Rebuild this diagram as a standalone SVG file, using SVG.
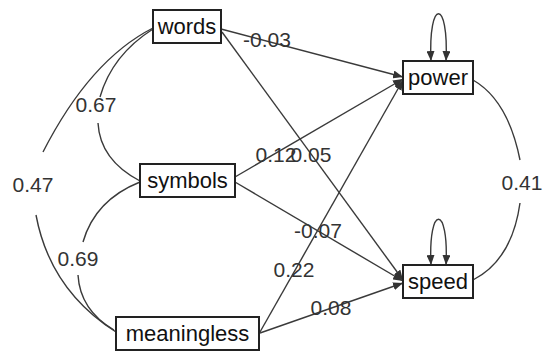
<svg xmlns="http://www.w3.org/2000/svg" width="543" height="352" viewBox="0 0 543 352">
<style>
.box{fill:#fff;stroke:#222;stroke-width:2}
.nt{font-family:"Liberation Sans",Arial,sans-serif;font-size:22px;fill:#111;text-anchor:middle}
.lb{font-family:"Liberation Sans",Arial,sans-serif;font-size:21px;fill:#333;text-anchor:middle}
.e{fill:none;stroke:#3a3a3a;stroke-width:1.4}
.c{fill:none;stroke:#3a3a3a;stroke-width:1.4}
</style>
<defs>
<marker id="ah" viewBox="0 0 10 8" refX="10" refY="4" markerWidth="10" markerHeight="8" markerUnits="userSpaceOnUse" orient="auto-start-reverse">
<path d="M0,0 L10,4 L0,8 Z" fill="#333"/>
</marker>
</defs>
<rect width="543" height="352" fill="#fff"/>
<g id="connectors">
<path class="e" d="M221,29 L403,77" marker-end="url(#ah)"/>
<path class="e" d="M222,32 L403,280" marker-end="url(#ah)"/>
<path class="e" d="M235,177 L403,79" marker-end="url(#ah)"/>
<path class="e" d="M235,182 L403,281" marker-end="url(#ah)"/>
<path class="e" d="M260,332 L403,80" marker-end="url(#ah)"/>
<path class="e" d="M260,333 L403,283" marker-end="url(#ah)"/>
<path class="e" d="M431,61 C428,-2 449,-2 446,61" marker-start="url(#ah)" marker-end="url(#ah)"/>
<path class="e" d="M431,265 C428,204 449,204 446,265" marker-start="url(#ah)" marker-end="url(#ah)"/>
<path class="c" d="M153,28 Q90,60 43,152"/>
<path class="c" d="M36,215 Q50,290 116,332"/>
<path class="c" d="M153,29 Q112,55 100,97"/>
<path class="c" d="M98,123 Q100,160 140,181"/>
<path class="c" d="M140,182 Q95,200 83,242"/>
<path class="c" d="M78,275 Q80,310 114,330"/>
<path class="c" d="M473,80 Q508,100 520,160"/>
<path class="c" d="M520,203 Q512,260 473,280"/>
<text class="lb" x="267" y="47">-0.03</text>
<text class="lb" x="96" y="112">0.67</text>
<text class="lb" x="33" y="192">0.47</text>
<text class="lb" x="78" y="266">0.69</text>
<text class="lb" x="276" y="162">0.12</text>
<text class="lb" x="311" y="162">0.05</text>
<text class="lb" x="318" y="238">-0.07</text>
<text class="lb" x="294" y="277">0.22</text>
<text class="lb" x="331" y="315">0.08</text>
<text class="lb" x="522" y="190">0.41</text>
</g>
<g id="words"><rect class="box" x="153" y="10" width="68" height="33"/><text class="nt" x="187" y="34">words</text></g>
<g id="symbols"><rect class="box" x="140" y="164" width="95" height="33"/><text class="nt" x="187.5" y="188">symbols</text></g>
<g id="meaningless"><rect class="box" x="116" y="317" width="143" height="33"/><text class="nt" x="187.5" y="341">meaningless</text></g>
<g id="power"><rect class="box" x="403" y="61" width="70" height="33"/><text class="nt" x="438" y="85">power</text></g>
<g id="speed"><rect class="box" x="403" y="265" width="70" height="33"/><text class="nt" x="438" y="289">speed</text></g>
</svg>
